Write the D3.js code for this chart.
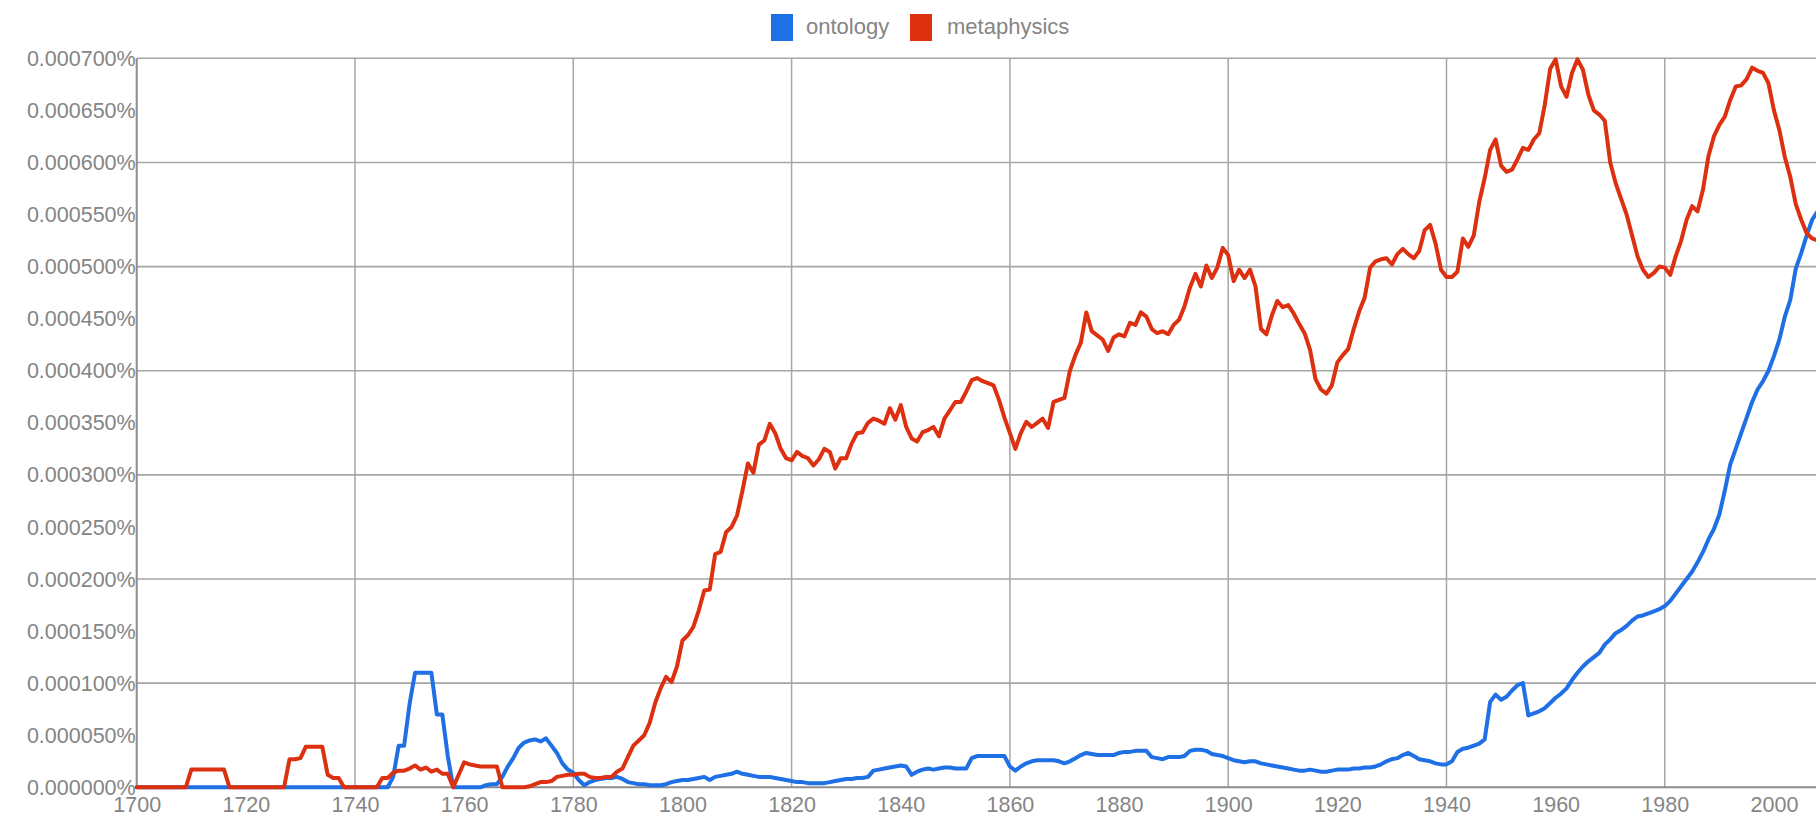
<!DOCTYPE html>
<html>
<head>
<meta charset="utf-8">
<script src="https://cdn.jsdelivr.net/npm/d3@7"></script>
<style>
  html, body { margin: 0; padding: 0; background: #fff; }
  svg { display: block; }
  text { font-family: "Liberation Sans", Arial, sans-serif; fill: #858585; }
</style>
</head>
<body>
<svg id="chart" width="1816" height="822"></svg>
<script>
// Years (category axis)
const firstYear = 1700, lastYear = 2008;
const years = d3.range(firstYear, lastYear + 1);

// Series values, in millionths of a percent (e.g. 110 -> 0.000110%)
const ontology = [
  0,0,0,0,0,0,0,0,0,0, 0,0,0,0,0,0,0,0,0,0, 0,0,0,0,0,0,0,0,0,0, 0,0,0,0,0,0,0,0,0,0, 0,0,0,0,0,0,0,
  10,40,40,80,110,110,110,110,70,70,30,
  0,0,0,0,0,0,
  2,3,3,10,20,28,38,43,45,46,44,47,40,33,23,17,
  14,7,2,5,7,8,9,9,10,8,
  5,4,3,3,2,2,2,3,5,6,
  7,7,8,9,10,7,10,11,12,13,
  15,13,12,11,10,10,10,9,8,7,
  6,5,5,4,4,4,4,5,6,7,
  8,8,9,9,10,16,17,18,19,20,
  21,20,12,15,17,18,17,18,19,19,
  18,18,18,28,30,30,30,30,30,30,
  20,16,20,23,25,26,26,26,26,25,
  23,25,28,31,33,32,31,31,31,31,
  33,34,34,35,35,35,29,28,27,29,
  29,29,30,35,36,36,35,32,31,30,
  28,26,25,24,25,25,23,22,21,20,
  19,18,17,16,16,17,16,15,15,16,
  17,17,17,18,18,19,19,20,22,25,
  27,28,31,33,30,27,26,25,23,22,
  22,25,34,37,38,40,42,46,82,89,
  84,87,93,98,100,69,71,73,76,81,
  86,90,95,103,110,116,121,125,129,137,
  142,148,151,155,160,164,165,167,169,171,
  174,179,186,193,200,207,216,226,238,248,
  262,285,310,325,340,355,370,382,390,400,
  414,430,452,468,498,513,530,545,553
];

const metaphysics = [
  0,0,0,0,0,0,0,0,0,0,
  17,17,17,17,17,17,17,
  0,0,0,0,0,0,0,0,0,0,0,
  27,27,28,39,39,39,39,12,9,9,
  0,0,0,0,0,0,0,
  9,9,14,16,16,18,21,17,19,15,17,13,13,0,12,24,22,21,20,20,20,20,
  0,0,0,0,0,
  1,3,5,5,6,10,11,12,
  12,13,13,10,9,9,10,10,15,18,
  29,40,45,50,62,81,95,106,101,116,
  141,146,154,170,189,190,224,226,245,250,
  261,285,311,302,329,333,349,340,325,316,
  314,322,318,316,309,315,325,322,306,316,
  316,330,340,341,350,354,352,349,364,353,
  367,346,335,332,341,343,346,337,354,362,
  370,370,380,391,393,390,388,386,372,355,
  340,325,340,351,346,350,354,345,370,372,
  374,400,415,427,456,438,434,430,419,432,
  435,433,446,444,456,452,440,436,438,435,
  444,449,462,480,493,481,501,489,499,518,
  511,486,497,489,497,481,440,435,453,467,
  461,463,455,445,436,420,392,382,378,386,
  408,415,421,440,457,470,499,505,507,508,
  502,512,517,512,508,515,535,540,522,497,
  490,490,495,527,519,530,562,585,612,622,
  597,591,593,603,614,612,622,628,655,690,
  699,673,663,686,699,689,665,650,646,640,
  600,580,565,550,530,510,497,490,494,500,
  499,492,510,525,545,558,553,574,606,625,
  636,644,660,673,674,680,691,688,686,676,
  650,631,605,586,560,545,532,527,525
];

const seriesNames = ["ontology", "metaphysics"];
const seriesColors = ["#1f6fe5", "#dc3010"];

// Tick labels
const yLabelTicks = [0,50,100,150,200,250,300,350,400,450,500,550,600,650,700];
const yGridTicks = [100,200,300,400,500,600,700];
const xLabelTicks = [1700,1720,1740,1760,1780,1800,1820,1840,1860,1880,1900,1920,1940,1960,1980,2000];
const xGridTicks = [1740,1780,1820,1860,1900,1940,1980];

const svg = d3.select("#chart");
const W = 1816, H = 822;

const x = d3.scaleLinear().domain([firstYear, lastYear]).range([136.7, 1817.6]);
const y = d3.scaleLinear().domain([0, 700]).range([787.3, 58.3]);

const plotRight = W;

// Horizontal gridlines
svg.append("g").selectAll("line").data(yGridTicks).join("line")
  .attr("x1", x(firstYear)).attr("x2", plotRight)
  .attr("y1", d => y(d)).attr("y2", d => y(d))
  .attr("stroke", "#a6a6a6").attr("stroke-width", 1.6);

// Vertical gridlines
svg.append("g").selectAll("line").data(xGridTicks).join("line")
  .attr("x1", d => x(d)).attr("x2", d => x(d))
  .attr("y1", y(700)).attr("y2", y(0))
  .attr("stroke", "#a6a6a6").attr("stroke-width", 1.5);

// Axes via d3 axis generators (labels only)
const yAxis = d3.axisLeft(y).tickValues(yLabelTicks).tickSize(0).tickPadding(0)
  .tickFormat(d => (d / 1e6).toFixed(6) + "%");
const gy = svg.append("g").attr("transform", `translate(${x(firstYear) - 1},0)`).call(yAxis);
gy.select(".domain").remove();
gy.selectAll("text").attr("font-size", 21.5).attr("fill", "#858585")
  .style("font-family", "'Liberation Sans', Arial, sans-serif").attr("dy", "0.33em");

const xAxis = d3.axisBottom(x).tickValues(xLabelTicks).tickSize(0).tickPadding(0)
  .tickFormat(d3.format("d"));
const gx = svg.append("g").attr("transform", `translate(0,${y(0)})`).call(xAxis);
gx.select(".domain").remove();
gx.selectAll("text").attr("font-size", 21.5).attr("fill", "#858585")
  .style("font-family", "'Liberation Sans', Arial, sans-serif").attr("dy", 0).attr("y", 24.5);

// Axis lines
svg.append("line").attr("x1", x(firstYear)).attr("x2", x(firstYear))
  .attr("y1", y(700)).attr("y2", y(0)).attr("stroke", "#8c8c8c").attr("stroke-width", 2);
svg.append("line").attr("x1", x(firstYear)).attr("x2", plotRight)
  .attr("y1", y(0)).attr("y2", y(0)).attr("stroke", "#8c8c8c").attr("stroke-width", 2);

// Lines
const data = [ontology, metaphysics];
const line = d3.line().x((d, i) => x(years[i])).y(d => y(d));
svg.append("g").selectAll("path").data(data).join("path")
  .attr("d", d => line(d))
  .attr("fill", "none")
  .attr("stroke", (d, i) => seriesColors[i])
  .attr("stroke-width", 4)
  .attr("stroke-linejoin", "round")
  .attr("stroke-linecap", "round");

// Legend
const legendItems = [
  { name: seriesNames[0], color: seriesColors[0], rx: 771, tx: 806 },
  { name: seriesNames[1], color: seriesColors[1], rx: 910, tx: 947 }
];
const lg = svg.append("g");
legendItems.forEach(it => {
  lg.append("rect").attr("x", it.rx).attr("y", 14).attr("width", 22).attr("height", 27).attr("fill", it.color);
  lg.append("text").attr("x", it.tx).attr("y", 34).attr("font-size", 22).attr("fill", "#7d7d7d")
    .text(it.name);
});
</script>
</body>
</html>
